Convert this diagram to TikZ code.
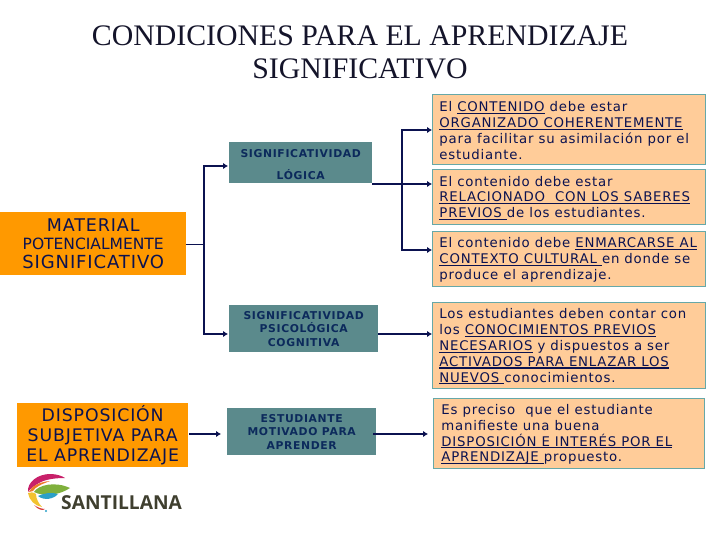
\documentclass[tikz,border=0pt]{standalone}
\usepackage{fontspec}
\setmainfont{DejaVu Sans}
\newfontfamily\titlefont{Liberation Serif}
\newfontfamily\logofont{Open Sans}
\newfontfamily\peachfont[LetterSpace=6]{DejaVu Sans}
\newfontfamily\greenfont[LetterSpace=6]{DejaVu Sans Bold}
\newfontfamily\orangefont[LetterSpace=5]{DejaVu Sans}
\usetikzlibrary{arrows.meta}
\definecolor{navy}{HTML}{0B1250}
\definecolor{titlecol}{HTML}{14142A}
\definecolor{tealfill}{HTML}{5B8A8C}
\definecolor{tealtext}{HTML}{0C2A5C}
\definecolor{orangefill}{HTML}{FF9900}
\definecolor{peachfill}{HTML}{FFCC99}
\definecolor{peachedge}{HTML}{66A8A8}
\definecolor{logotext}{HTML}{3F3F2F}
\definecolor{logomag}{HTML}{C8206A}
\definecolor{logogreen}{HTML}{7FB03C}
\definecolor{logoyel}{HTML}{F2C230}
\definecolor{logoora}{HTML}{EE7A2A}
\definecolor{logoblue}{HTML}{2AA0C8}
\definecolor{logored}{HTML}{D83A3A}
\newcommand{\ulx}[1]{{\setbox0\hbox{#1}\rlap{\rule[-2.2pt]{\wd0}{1.1pt}}\box0}}
\newcommand{\peachtext}[2]{\hspace{#1}\parbox{\dimexpr 273pt-#1\relax}{\vspace*{2pt}#2}}
\tikzset{
  titletext/.style={font=\titlefont\fontsize{29.8}{33}\selectfont, text=titlecol, align=center, inner sep=0pt},
  greenbox/.style={anchor=north west, fill=tealfill, text=tealtext, align=center, inner sep=0pt,
    font=\greenfont\fontsize{10.8}{13.6}\selectfont},
  orangebox/.style={anchor=north west, fill=orangefill, text=navy, align=center, inner sep=0pt},
  peachbox/.style={anchor=north west, fill=peachfill, draw=peachedge, line width=0.9pt, text=navy, align=left,
    inner sep=0pt, font=\peachfont\fontsize{13.3}{15.9}\selectfont},
  link/.style={draw=navy, line width=1.5pt},
  thinlink/.style={draw=navy, line width=0.9pt},
  arrowlink/.style={link, -{Latex[length=5pt,width=6.5pt]}},
}
\begin{document}
\begin{tikzpicture}[x=1pt,y=-1pt]
\useasboundingbox (0,0) rectangle (720,540);
\fill[white] (0,0) rectangle (720,540);

\node[titletext] (title) at (360,52) {CONDICIONES PARA EL APRENDIZAJE\\SIGNIFICATIVO};

% left column
\node[orangebox, minimum width=186pt, minimum height=63pt, font=\orangefont\fontsize{17.5}{18.6}\selectfont] (mat) at (0,212)
  {MATERIAL\\{\setmainfont{DejaVu Sans}\normalfont\fontsize{15.5}{18.6}\selectfont POTENCIALMENTE}\\\fontsize{18}{18.6}\selectfont SIGNIFICATIVO};
\node[orangebox, minimum width=171pt, minimum height=64pt, font=\orangefont\fontsize{17.3}{19.6}\selectfont] (disp) at (17,403)
  {DISPOSICIÓN\\SUBJETIVA PARA\\EL APRENDIZAJE};

% middle column
\node[greenbox, minimum width=143pt, minimum height=41pt, font=\greenfont\fontsize{10.8}{22}\selectfont] (logica) at (229,142)
  {\parbox{143pt}{\centering\vspace*{4pt}SIGNIFICATIVIDAD\\LÓGICA}};
\node[greenbox, minimum width=149pt, minimum height=47pt] (psico) at (229,305)
  {SIGNIFICATIVIDAD\\PSICOLÓGICA\\COGNITIVA};
\node[greenbox, minimum width=149pt, minimum height=47pt] (estud) at (227,408)
  {ESTUDIANTE\\MOTIVADO PARA\\APRENDER};

% right column
\node[peachbox, minimum width=273pt, minimum height=70pt] (p1) at (432,94)
  {\peachtext{7pt}{El \ulx{CONTENIDO} debe estar\\\ulx{ORGANIZADO COHERENTEMENTE}\\para facilitar su asimilación por el\\estudiante.}};
\node[peachbox, minimum width=273pt, minimum height=55pt] (p2) at (432,169)
  {\peachtext{7pt}{El contenido debe estar\\\ulx{RELACIONADO\ \ CON LOS SABERES}\\\ulx{PREVIOS\ }de los estudiantes.}};
\node[peachbox, minimum width=273pt, minimum height=55pt] (p3) at (432,231)
  {\peachtext{7pt}{El contenido debe \ulx{ENMARCARSE AL}\\\ulx{CONTEXTO CULTURAL\ }en donde se\\produce el aprendizaje.}};
\node[peachbox, minimum width=273pt, minimum height=86pt] (p4) at (432,302)
  {\peachtext{7pt}{Los estudiantes deben contar con\\los \ulx{CONOCIMIENTOS PREVIOS}\\\ulx{NECESARIOS} y dispuestos a ser\\\ulx{ACTIVADOS PARA ENLAZAR LOS}\\\ulx{NUEVOS\ }conocimientos.}};
\node[peachbox, minimum width=271pt, minimum height=70pt] (p5) at (433,398)
  {\hspace{8pt}\parbox{263pt}{\vspace*{2pt}Es preciso\ \ que el estudiante\\manifieste una buena\\\ulx{DISPOSICIÓN E INTERÉS POR EL}\\\ulx{APRENDIZAJE\ }propuesto.}};

% connector coordinates
\coordinate (busa) at (204,244);
\coordinate (busb) at (402,184);
\coordinate (logicain) at (228,166);
\coordinate (psicoin) at (228,334);
\coordinate (logicaout) at (372,184);
\coordinate (pa) at (432,130);
\coordinate (pb) at (432,184);
\coordinate (pc) at (432,250);
\coordinate (pd) at (432,334);
\coordinate (pe) at (428,434);
\coordinate (psicoout) at (378,334);
\coordinate (estudin) at (221,434);
\coordinate (estudout) at (373,434);
\coordinate (dispout) at (189,434);
\coordinate (matout) at (186,244);

\draw[thinlink] (matout) -- (busa);
\draw[arrowlink] (busa) |- (logicain);
\draw[arrowlink] (busa) |- (psicoin);
\draw[arrowlink] (logicaout) -- (pb);
\draw[arrowlink] (busb) |- (pa);
\draw[arrowlink] (busb) |- (pc);
\draw[arrowlink] (psicoout) -- (pd);
\draw[arrowlink] (dispout) -- (estudin);
\draw[arrowlink] (estudout) -- (pe);

% logo
\fill[logomag] (28,492) .. controls (27,482) and (38,474) .. (50,474) .. controls (57,474) and (62,476) .. (65,478)
  .. controls (56,478) and (46,479) .. (39,483) .. controls (34,486) and (30,489) .. (28,492);
\fill[logoora] (29,492) .. controls (31,487) and (38,482) .. (50,481) .. controls (42,484) and (35,487) .. (33,491) -- cycle;
\fill[logogreen] (34,492) .. controls (38,485) and (55,481) .. (70,488) .. controls (60,495) and (44,497) .. (34,492) -- cycle;
\fill[logoyel] (28,493) .. controls (31,492) and (33,492) .. (36,494) .. controls (36,499) and (39,504) .. (42,507) .. controls (35,506) and (29,500) .. (28,493) -- cycle;
\fill[logoblue] (38,496) .. controls (44,493) and (52,492) .. (58,494) .. controls (54,499) and (44,501) .. (38,496) -- cycle;
\fill[logored] (34,505) .. controls (37,507) and (41,509) .. (45,509) .. controls (43,511) and (38,510) .. (34,505) -- cycle;
\fill[logoblue] (46,511) circle (1.2);
\node[anchor=west, inner sep=0pt, text=logotext, font=\logofont\bfseries\fontsize{19.2}{20}\selectfont] (logo) at (61,503) {SANTILLANA};
\end{tikzpicture}
\end{document}
